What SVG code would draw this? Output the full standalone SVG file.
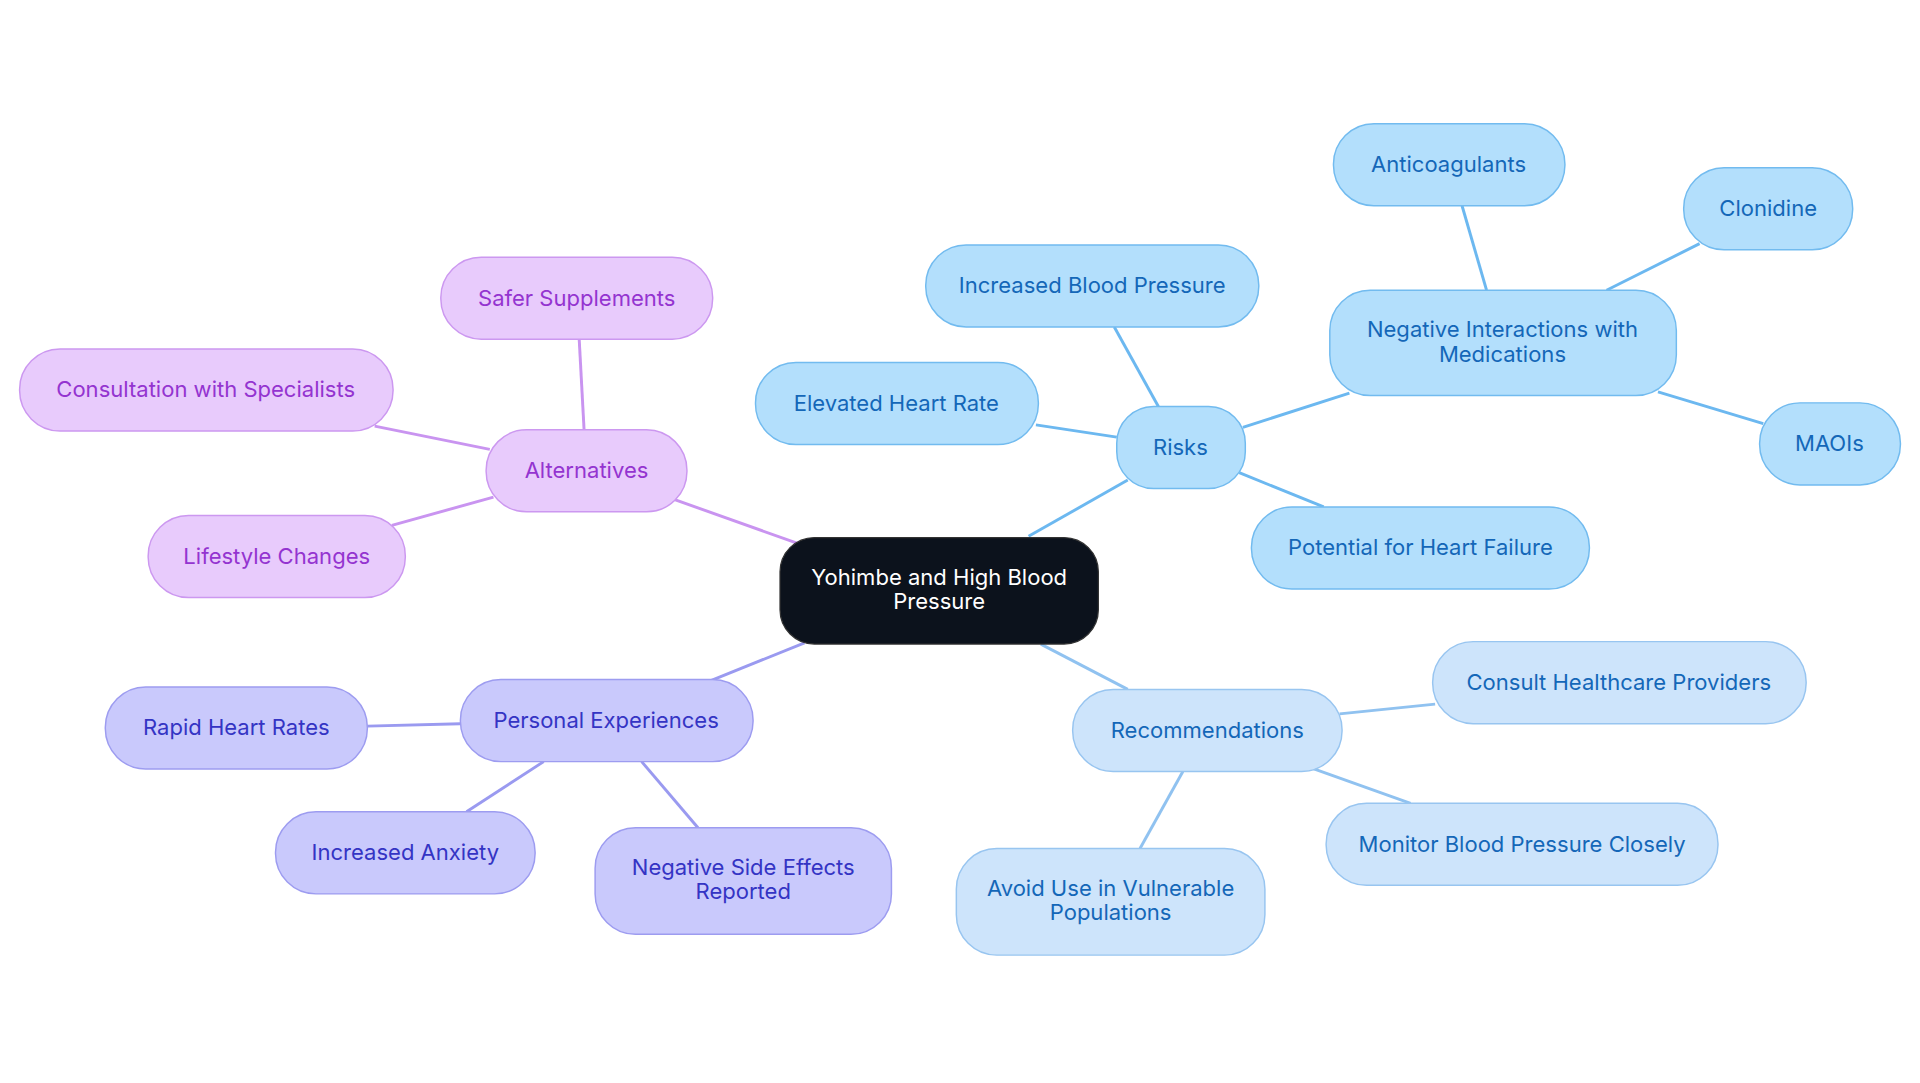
<svg xmlns="http://www.w3.org/2000/svg" width="1920" height="1083" viewBox="0 0 1920 1083">
<style>
text{font-family:Inter,"Noto Sans",sans-serif;font-size:18px;text-anchor:middle;dominant-baseline:central}
.r rect{fill:#b3dffc;stroke:#72bbef;stroke-width:1.2}.r text{fill:#1467b8}
.c rect{fill:#cde4fb;stroke:#98c5f0;stroke-width:1.2}.c text{fill:#1467b8}
.p rect{fill:#c9c9fc;stroke:#9d9cf0;stroke-width:1.2}.p text{fill:#3434c4}
.a rect{fill:#e8cbfc;stroke:#cc98f0;stroke-width:1.2}.a text{fill:#9434d0}
.e line{stroke-width:2.4}
</style>
<rect width="1920" height="1083" fill="#fff"/>
<g transform="scale(1.2245)">
<g id="connectors" class="e">
<g stroke="#6cb8f0"><line x1="840" y1="438" x2="921" y2="392"/><line x1="946" y1="332" x2="910" y2="267"/><line x1="912" y1="357" x2="846" y2="347"/><line x1="1015" y1="349" x2="1102" y2="321"/><line x1="1012" y1="386" x2="1081" y2="414"/><line x1="1214" y1="237" x2="1194" y2="168"/><line x1="1312" y1="237" x2="1388" y2="199"/><line x1="1354" y1="320" x2="1440" y2="346"/></g>
<g stroke="#90c2f0"><line x1="850" y1="526" x2="921" y2="563"/><line x1="1094" y1="583" x2="1172" y2="575"/><line x1="1073" y1="628" x2="1152" y2="656"/><line x1="966" y1="630" x2="931" y2="693"/></g>
<g stroke="#9a9af0"><line x1="657" y1="525" x2="580" y2="556"/><line x1="376" y1="591" x2="300" y2="593"/><line x1="444" y1="622" x2="381" y2="663"/><line x1="524" y1="622" x2="570" y2="676"/></g>
<g stroke="#c994f0"><line x1="652" y1="444" x2="551" y2="408"/><line x1="477" y1="351" x2="473" y2="277"/><line x1="400" y1="367" x2="306" y2="348"/><line x1="403" y1="406" x2="320" y2="429"/></g>
</g>
<g id="center"><rect x="637" y="439" width="260" height="87" rx="28" fill="#0c121c" stroke="#333" stroke-width="1"/><text x="767" y="471" fill="#fff">Yohimbe and High Blood</text><text x="767" y="491" fill="#fff">Pressure</text></g>
<g id="risks" class="r"><rect x="912" y="332" width="105" height="67" rx="30"/><text x="964" y="365">Risks</text></g>
<g id="ibp" class="r"><rect x="756" y="200" width="272" height="67" rx="33"/><text x="892" y="233">Increased Blood Pressure</text></g>
<g id="ehr" class="r"><rect x="617" y="296" width="231" height="67" rx="33"/><text x="732" y="329">Elevated Heart Rate</text></g>
<g id="nim" class="r"><rect x="1086" y="237" width="283" height="86" rx="33"/><text x="1227" y="269">Negative Interactions with</text><text x="1227" y="289">Medications</text></g>
<g id="anticoag" class="r"><rect x="1089" y="101" width="189" height="67" rx="33"/><text x="1183" y="134">Anticoagulants</text></g>
<g id="clonidine" class="r"><rect x="1375" y="137" width="138" height="67" rx="33"/><text x="1444" y="170">Clonidine</text></g>
<g id="maois" class="r"><rect x="1437" y="329" width="115" height="67" rx="33"/><text x="1494" y="362">MAOIs</text></g>
<g id="phf" class="r"><rect x="1022" y="414" width="276" height="67" rx="33"/><text x="1160" y="447">Potential for Heart Failure</text></g>
<g id="rec" class="c"><rect x="876" y="563" width="220" height="67" rx="33"/><text x="986" y="596">Recommendations</text></g>
<g id="chp" class="c"><rect x="1170" y="524" width="305" height="67" rx="33"/><text x="1322" y="557">Consult Healthcare Providers</text></g>
<g id="mbp" class="c"><rect x="1083" y="656" width="320" height="67" rx="33"/><text x="1243" y="689">Monitor Blood Pressure Closely</text></g>
<g id="avoid" class="c"><rect x="781" y="693" width="252" height="87" rx="33"/><text x="907" y="725">Avoid Use in Vulnerable</text><text x="907" y="745">Populations</text></g>
<g id="pe" class="p"><rect x="376" y="555" width="239" height="67" rx="33"/><text x="495" y="588">Personal Experiences</text></g>
<g id="rhr" class="p"><rect x="86" y="561" width="214" height="67" rx="33"/><text x="193" y="594">Rapid Heart Rates</text></g>
<g id="ia" class="p"><rect x="225" y="663" width="212" height="67" rx="33"/><text x="331" y="696">Increased Anxiety</text></g>
<g id="nse" class="p"><rect x="486" y="676" width="242" height="87" rx="33"/><text x="607" y="708">Negative Side Effects</text><text x="607" y="728">Reported</text></g>
<g id="alt" class="a"><rect x="397" y="351" width="164" height="67" rx="33"/><text x="479" y="384">Alternatives</text></g>
<g id="ss" class="a"><rect x="360" y="210" width="222" height="67" rx="33"/><text x="471" y="243">Safer Supplements</text></g>
<g id="cs" class="a"><rect x="16" y="285" width="305" height="67" rx="33"/><text x="168" y="318">Consultation with Specialists</text></g>
<g id="lc" class="a"><rect x="121" y="421" width="210" height="67" rx="33"/><text x="226" y="454">Lifestyle Changes</text></g>
</g>
</svg>
